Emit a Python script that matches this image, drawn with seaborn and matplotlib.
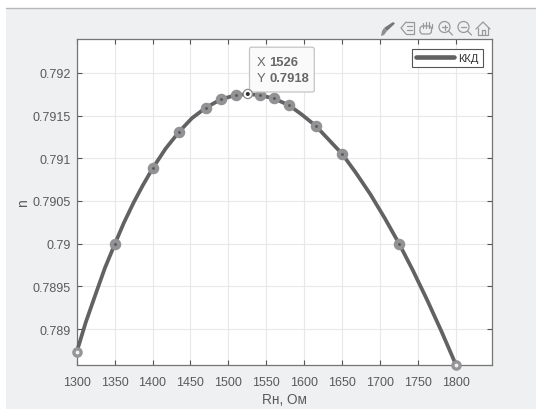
import numpy as np
import pandas as pd
import seaborn as sns
import matplotlib.pyplot as plt
from matplotlib.patches import Rectangle, FancyBboxPatch, Circle, Polygon

r_line = [1300, 1312, 1325, 1337, 1350, 1362, 1375, 1387, 1400, 1417, 1435, 1452, 1470, 1490, 1510, 1526, 1541, 1560, 1580, 1597, 1615, 1632, 1650, 1668, 1687, 1706, 1725, 1743, 1762, 1781, 1800]
eta_line = [0.78873, 0.78908, 0.78941, 0.78971, 0.78999, 0.79024, 0.79048, 0.79068, 0.79088, 0.79111, 0.79131, 0.79147, 0.79159, 0.79169, 0.79174, 0.79175, 0.79174, 0.7917, 0.79162, 0.79151, 0.79138, 0.79122, 0.79105, 0.79083, 0.79058, 0.7903, 0.79, 0.78969, 0.78934, 0.78897, 0.78858]
r_pts = [1350, 1400, 1435, 1470, 1490, 1510, 1541, 1560, 1580, 1615, 1650, 1725]
eta_pts = [0.78999, 0.79088, 0.79131, 0.79159, 0.79169, 0.79174, 0.79174, 0.7917, 0.79162, 0.79138, 0.79105, 0.79]
r_ends = [1300, 1800]
eta_ends = [0.78873, 0.78858]
x_ticks = [1300, 1350, 1400, 1450, 1500, 1550, 1600, 1650, 1700, 1750, 1800]
y_ticks = [0.789, 0.7895, 0.79, 0.7905, 0.791, 0.7915, 0.792]
y_labels = ['0.789', '0.7895', '0.79', '0.7905', '0.791', '0.7915', '0.792']

sns.set_theme(style='whitegrid')
plt.rcParams['font.family'] = ['Liberation Sans', 'DejaVu Sans']

W, H = 536, 410
tc = '#5a5a5a'
fig = plt.figure(figsize=(W / 100, H / 100), dpi=100, facecolor='white')
fig.add_artist(Rectangle((6 / W, 0), 1, 1 - 8.5 / H, transform=fig.transFigure, fc='#eff0f2', ec='none', zorder=-2))
fig.add_artist(plt.Line2D([6 / W, 1], [1 - 8.5 / H] * 2, color='#b8b8b8', lw=1, zorder=-1))

ax = fig.add_axes([76.7 / W, 1 - 366.3 / H, (492 - 76.7) / W, (366.3 - 39.7) / H], facecolor='white')
df = pd.DataFrame({'r': r_line, 'eta': eta_line})
sns.lineplot(data=df, x='r', y='eta', ax=ax, color='#626262', lw=2.7, label='ККД', zorder=3, clip_on=False)
ax.plot(r_pts, eta_pts, ls='none', marker='o', ms=5.2, mfc='#565658', mec='#929294', mew=3.1, zorder=4)
ax.plot(r_ends, eta_ends, ls='none', marker='o', ms=5.2, mfc='#f0f0f0', mec='#959597', mew=2.4, zorder=4, clip_on=False)

ax.set_xlim(1300, 1847.5)
ax.set_ylim(0.788575, 0.79240)
ax.set_xticks(x_ticks)
ax.set_yticks(y_ticks)
ax.set_yticklabels(y_labels)
ax.grid(True, color='#e8e8e8', lw=0.8)
ax.set_axisbelow(True)
ax.tick_params(axis='both', direction='in', length=3.5, width=0.8, color='#555555', labelcolor=tc,
               labelsize=9, top=True, right=True, bottom=True, left=True)
ax.tick_params(axis='x', pad=7.5)
ax.tick_params(axis='y', pad=4.3)
for s in ax.spines.values():
    s.set_color('#747474')
    s.set_linewidth(0.9)
ax.set_xlabel('Rн, Ом', fontsize=9.8, color=tc, labelpad=3)
ax.set_ylabel('n', fontsize=10, color=tc, labelpad=2)

leg = ax.legend(loc='upper right', bbox_to_anchor=((482.5 - 76.7) / (492 - 76.7), (366.3 - 49.7) / (366.3 - 39.7)),
                borderaxespad=0, fontsize=8, frameon=True, fancybox=False, framealpha=1, edgecolor='#555555',
                labelcolor='#333333', handlelength=3.45, handletextpad=0.35, borderpad=0.36)
leg.get_frame().set_linewidth(0.8)
leg.get_lines()[0].set_linewidth(3.3)

# pixel overlay for the datatip and the toolbar
ov = fig.add_axes([0, 0, 1, 1], facecolor='none')
ov.set_xlim(0, W)
ov.set_ylim(H, 0)
ov.axis('off')
ov.add_patch(FancyBboxPatch((249.5, 48.2), 64.8, 44.8, boxstyle='round,pad=0,rounding_size=2', fc='#fafafa', ec='#c4c4c4', lw=0.9))
ov.text(256.5, 63, 'X', fontsize=9.4, color='#666666', va='center')
ov.text(256.5, 79, 'Y', fontsize=9.4, color='#666666', va='center')
ov.text(269, 63, '1526', fontsize=9.4, color='#666666', va='center', fontweight='bold')
ov.text(269, 79, '0.7918', fontsize=9.4, color='#666666', va='center', fontweight='bold')
ov.add_patch(Circle((247.8, 95), 4.6, fc='white', ec='#8c8c8c', lw=0.9))
ov.add_patch(Circle((247.8, 95), 2, fc='#333333', ec='none'))

ic = '#999999'
# brush
ov.add_patch(Polygon([[393, 23], [395, 24.5], [387, 32], [384, 29]], fc='#767676', ec='none'))
ov.add_patch(Polygon([[384, 29], [387, 32], [384, 36], [381, 37], [382, 32]], fc='#8f8f8f', ec='none'))
# legend icon
ov.plot([406, 401, 406], [23, 29, 35], color=ic, lw=0.9)
ov.plot([406, 414, 414, 406], [23, 23, 35, 35], color=ic, lw=0.9)
ov.plot([407, 412], [27, 27], color=ic, lw=0.9)
ov.plot([407, 412], [31, 31], color=ic, lw=0.9)
# hand
ov.add_patch(FancyBboxPatch((420, 27), 11.5, 8, boxstyle='round,pad=0,rounding_size=3', fc='none', ec=ic, lw=0.9))
for xh, yh in ((423, 24), (426, 23), (429, 23), (431.5, 25)):
    ov.plot([xh, xh], [yh, 29], color=ic, lw=0.9)
# zoom in/out
for cx, s in ((444.5, True), (463.5, False)):
    ov.add_patch(Circle((cx, 28), 5.5, fc='none', ec=ic, lw=0.9))
    ov.plot([cx + 4, cx + 8], [32, 36], color=ic, lw=0.9)
    ov.plot([cx - 2.5, cx + 2.5], [28, 28], color=ic, lw=0.9)
    if s:
        ov.plot([cx, cx], [25.5, 30.5], color=ic, lw=0.9)
# home
ov.plot([476, 483, 490], [30, 23, 30], color=ic, lw=0.9)
ov.plot([478, 478, 488, 488], [29, 35.5, 35.5, 29], color=ic, lw=0.9)
ov.plot([481.5, 481.5, 484.5, 484.5], [35.5, 31, 31, 35.5], color=ic, lw=0.9)

fig.savefig('out.png', dpi=100)
